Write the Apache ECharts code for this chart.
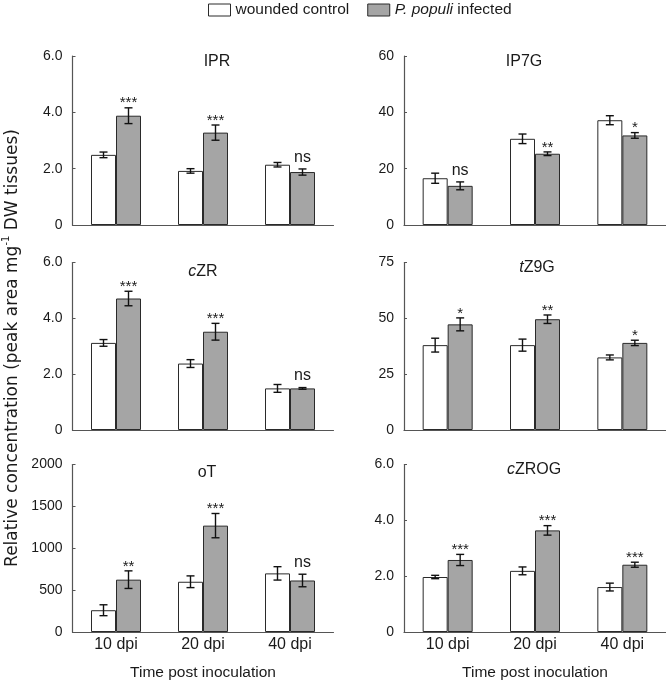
<!DOCTYPE html>
<html>
<head>
<meta charset="utf-8">
<script src="https://cdn.jsdelivr.net/npm/echarts@6/dist/echarts.min.js"></script>
<style>
html,body{margin:0;padding:0;background:#fff;}
#chart{width:666px;height:682px;}
</style>
</head>
<body>
<div id="chart"></div>
<script>
// ---------- data ----------
const categories = ['10 dpi', '20 dpi', '40 dpi'];
const seriesNames = ['wounded control', 'P. populi infected'];

const iprControl = [2.49, 1.92, 2.14];
const iprControlErr = [0.10, 0.08, 0.08];
const iprInfected = [3.88, 3.28, 1.88];
const iprInfectedErr = [0.28, 0.27, 0.11];
const iprSig = ['***', '***', 'ns'];

const ip7gControl = [16.6, 30.6, 37.2];
const ip7gControlErr = [1.8, 1.7, 1.6];
const ip7gInfected = [13.9, 25.3, 31.8];
const ip7gInfectedErr = [1.4, 0.65, 1.0];
const ip7gSig = ['ns', '**', '*'];

const czrControl = [3.12, 2.38, 1.49];
const czrControlErr = [0.12, 0.14, 0.14];
const czrInfected = [4.71, 3.52, 1.49];
const czrInfectedErr = [0.26, 0.30, 0.03];
const czrSig = ['***', '***', 'ns'];

const tz9gControl = [38.0, 38.0, 32.5];
const tz9gControlErr = [3.1, 2.7, 1.1];
const tz9gInfected = [47.3, 49.6, 39.0];
const tz9gInfectedErr = [2.9, 1.9, 1.2];
const tz9gSig = ['*', '**', '*'];

const otControl = [260, 600, 700];
const otControlErr = [65, 70, 80];
const otInfected = [625, 1270, 615];
const otInfectedErr = [105, 145, 75];
const otSig = ['**', '***', 'ns'];

const czrogControl = [1.97, 2.19, 1.61];
const czrogControlErr = [0.06, 0.14, 0.14];
const czrogInfected = [2.58, 3.64, 2.41];
const czrogInfectedErr = [0.20, 0.17, 0.09];
const czrogSig = ['***', '***', '***'];

const panelTitles = ['IPR', 'IP7G', '{i|c}ZR', '{i|t}Z9G', 'oT', '{i|c}ZROG'];
const yMax = [6, 60, 6, 75, 2000, 6];
const yInterval = [2, 20, 2, 25, 500, 2];
const yDecimals = [1, 0, 1, 0, 0, 1];

// ---------- layout / style ----------
const BAR_W = 25;
const grids = [
  {left: 72.5, top: 56, width: 261, height: 169},
  {left: 404, top: 56, width: 262, height: 169},
  {left: 72.5, top: 262.5, width: 261, height: 167.5},
  {left: 404, top: 262.5, width: 262, height: 167.5},
  {left: 72.5, top: 464.5, width: 261, height: 169},
  {left: 404, top: 464.5, width: 262, height: 169}
];
const titlePos = [[217, 62], [524, 62], [203, 272], [537, 268], [207, 473], [534, 470]];

const panels = [
  [iprControl, iprControlErr, iprInfected, iprInfectedErr, iprSig],
  [ip7gControl, ip7gControlErr, ip7gInfected, ip7gInfectedErr, ip7gSig],
  [czrControl, czrControlErr, czrInfected, czrInfectedErr, czrSig],
  [tz9gControl, tz9gControlErr, tz9gInfected, tz9gInfectedErr, tz9gSig],
  [otControl, otControlErr, otInfected, otInfectedErr, otSig],
  [czrogControl, czrogControlErr, czrogInfected, czrogInfectedErr, czrogSig]
];

const FONT = 'Liberation Sans, Arial, sans-serif';
const AXIS_COLOR = '#555';
const TEXT_COLOR = '#1a1a1a';

const xAxes = [], yAxes = [], series = [], titles = [];

panels.forEach((p, i) => {
  const [ctl, ctlErr, inf, infErr, sig] = p;
  const bottomRow = i >= 4;
  xAxes.push({
    type: 'category', gridIndex: i, data: categories,
    axisLine: {lineStyle: {color: AXIS_COLOR, width: 1.2}},
    axisTick: {show: false},
    axisLabel: {show: bottomRow, fontSize: 16, color: TEXT_COLOR, fontFamily: FONT, margin: 5},
    name: bottomRow ? 'Time post inoculation' : '',
    nameLocation: 'middle', nameGap: 33,
    nameTextStyle: {fontSize: 15.5, color: TEXT_COLOR, fontFamily: FONT}
  });
  yAxes.push({
    type: 'value', gridIndex: i, min: 0, max: yMax[i], interval: yInterval[i],
    splitLine: {show: false},
    axisLine: {show: true, lineStyle: {color: AXIS_COLOR, width: 1.2}},
    axisTick: {show: true, inside: true, length: 3, lineStyle: {color: AXIS_COLOR}},
    axisLabel: {
      fontSize: 14, color: TEXT_COLOR, fontFamily: FONT, margin: 10,
      formatter: v => (v === 0 ? '0' : v.toFixed(yDecimals[i]))
    }
  });
  titles.push({
    text: panelTitles[i], left: titlePos[i][0], top: titlePos[i][1],
    textAlign: 'center', textVerticalAlign: 'middle', padding: 0,
    textStyle: {fontSize: 16, fontWeight: 'normal', color: TEXT_COLOR, fontFamily: FONT,
      rich: {i: {fontStyle: 'italic', fontSize: 16, color: TEXT_COLOR, fontFamily: FONT}}}
  });
  series.push({
    name: seriesNames[0], type: 'bar', xAxisIndex: i, yAxisIndex: i,
    data: ctl, barWidth: BAR_W, barGap: '0%',
    itemStyle: {color: '#ffffff', borderColor: '#2a2a2a', borderWidth: 1}
  });
  series.push({
    name: seriesNames[1], type: 'bar', xAxisIndex: i, yAxisIndex: i,
    data: inf, barWidth: BAR_W, barGap: '0%',
    itemStyle: {color: '#a5a5a5', borderColor: '#2a2a2a', borderWidth: 1}
  });
  // error bars
  const errData = [];
  ctl.forEach((v, k) => errData.push([k, v, ctlErr[k], 0]));
  inf.forEach((v, k) => errData.push([k, v, infErr[k], 1]));
  series.push({
    type: 'custom', xAxisIndex: i, yAxisIndex: i, data: errData, z: 5, silent: true,
    renderItem: (params, api) => {
      const k = api.value(0), v = api.value(1), e = api.value(2), g = api.value(3);
      const top = api.coord([k, v + e]);
      const bot = api.coord([k, v - e]);
      const x = top[0] + (g === 0 ? -BAR_W / 2 : BAR_W / 2);
      const cap = 4;
      const st = {stroke: '#111', lineWidth: 1.4};
      return {type: 'group', children: [
        {type: 'line', shape: {x1: x, y1: top[1], x2: x, y2: bot[1]}, style: st},
        {type: 'line', shape: {x1: x - cap, y1: top[1], x2: x + cap, y2: top[1]}, style: st},
        {type: 'line', shape: {x1: x - cap, y1: bot[1], x2: x + cap, y2: bot[1]}, style: st}
      ]};
    }
  });
  // significance labels
  const sigData = inf.map((v, k) => [k, v + infErr[k]]);
  series.push({
    type: 'custom', xAxisIndex: i, yAxisIndex: i, data: sigData, z: 6, silent: true,
    renderItem: (params, api) => {
      const pt = api.coord([api.value(0), api.value(1)]);
      const s = sig[params.dataIndex];
      const isNs = s === 'ns';
      return {type: 'text', style: {
        text: s, x: pt[0] + BAR_W / 2, y: pt[1] - (isNs ? 11.5 : 4.5),
        align: 'center', verticalAlign: 'middle',
        fontSize: isNs ? 16 : 15, fontFamily: FONT, fill: TEXT_COLOR
      }};
    }
  });
});

const chart = echarts.init(document.getElementById('chart'), null, {renderer: 'canvas'});
chart.setOption({
  animation: false,
  backgroundColor: '#ffffff',
  title: titles,
  legend: {
    data: seriesNames, left: 208, top: 2, padding: 0,
    itemWidth: 22, itemHeight: 12, itemGap: 18,
    icon: 'rect',
    itemStyle: {borderColor: '#2a2a2a', borderWidth: 1},
    textStyle: {fontSize: 15.5, color: TEXT_COLOR, fontFamily: FONT,
      rich: {i: {fontStyle: 'italic', fontSize: 15.5, color: TEXT_COLOR, fontFamily: FONT}}},
    formatter: name => (name === seriesNames[1] ? '{i|P. populi} infected' : name)
  },
  grid: grids,
  xAxis: xAxes,
  yAxis: yAxes,
  series: series,
  graphic: [{
    type: 'text', x: 11, y: 348, rotation: Math.PI / 2,
    style: {
      text: '{n|Relative concentration (peak area mg}{s|-1}{n| DW tissues)}',
      align: 'center', verticalAlign: 'middle',
      rich: {
        n: {fontSize: 17, fontFamily: 'DejaVu Sans', fill: TEXT_COLOR, lineHeight: 20, verticalAlign: 'bottom'},
        s: {fontSize: 10, fontFamily: 'DejaVu Sans', fill: TEXT_COLOR, lineHeight: 20, verticalAlign: 'top'}
      }
    }
  }]
});
</script>
</body>
</html>
